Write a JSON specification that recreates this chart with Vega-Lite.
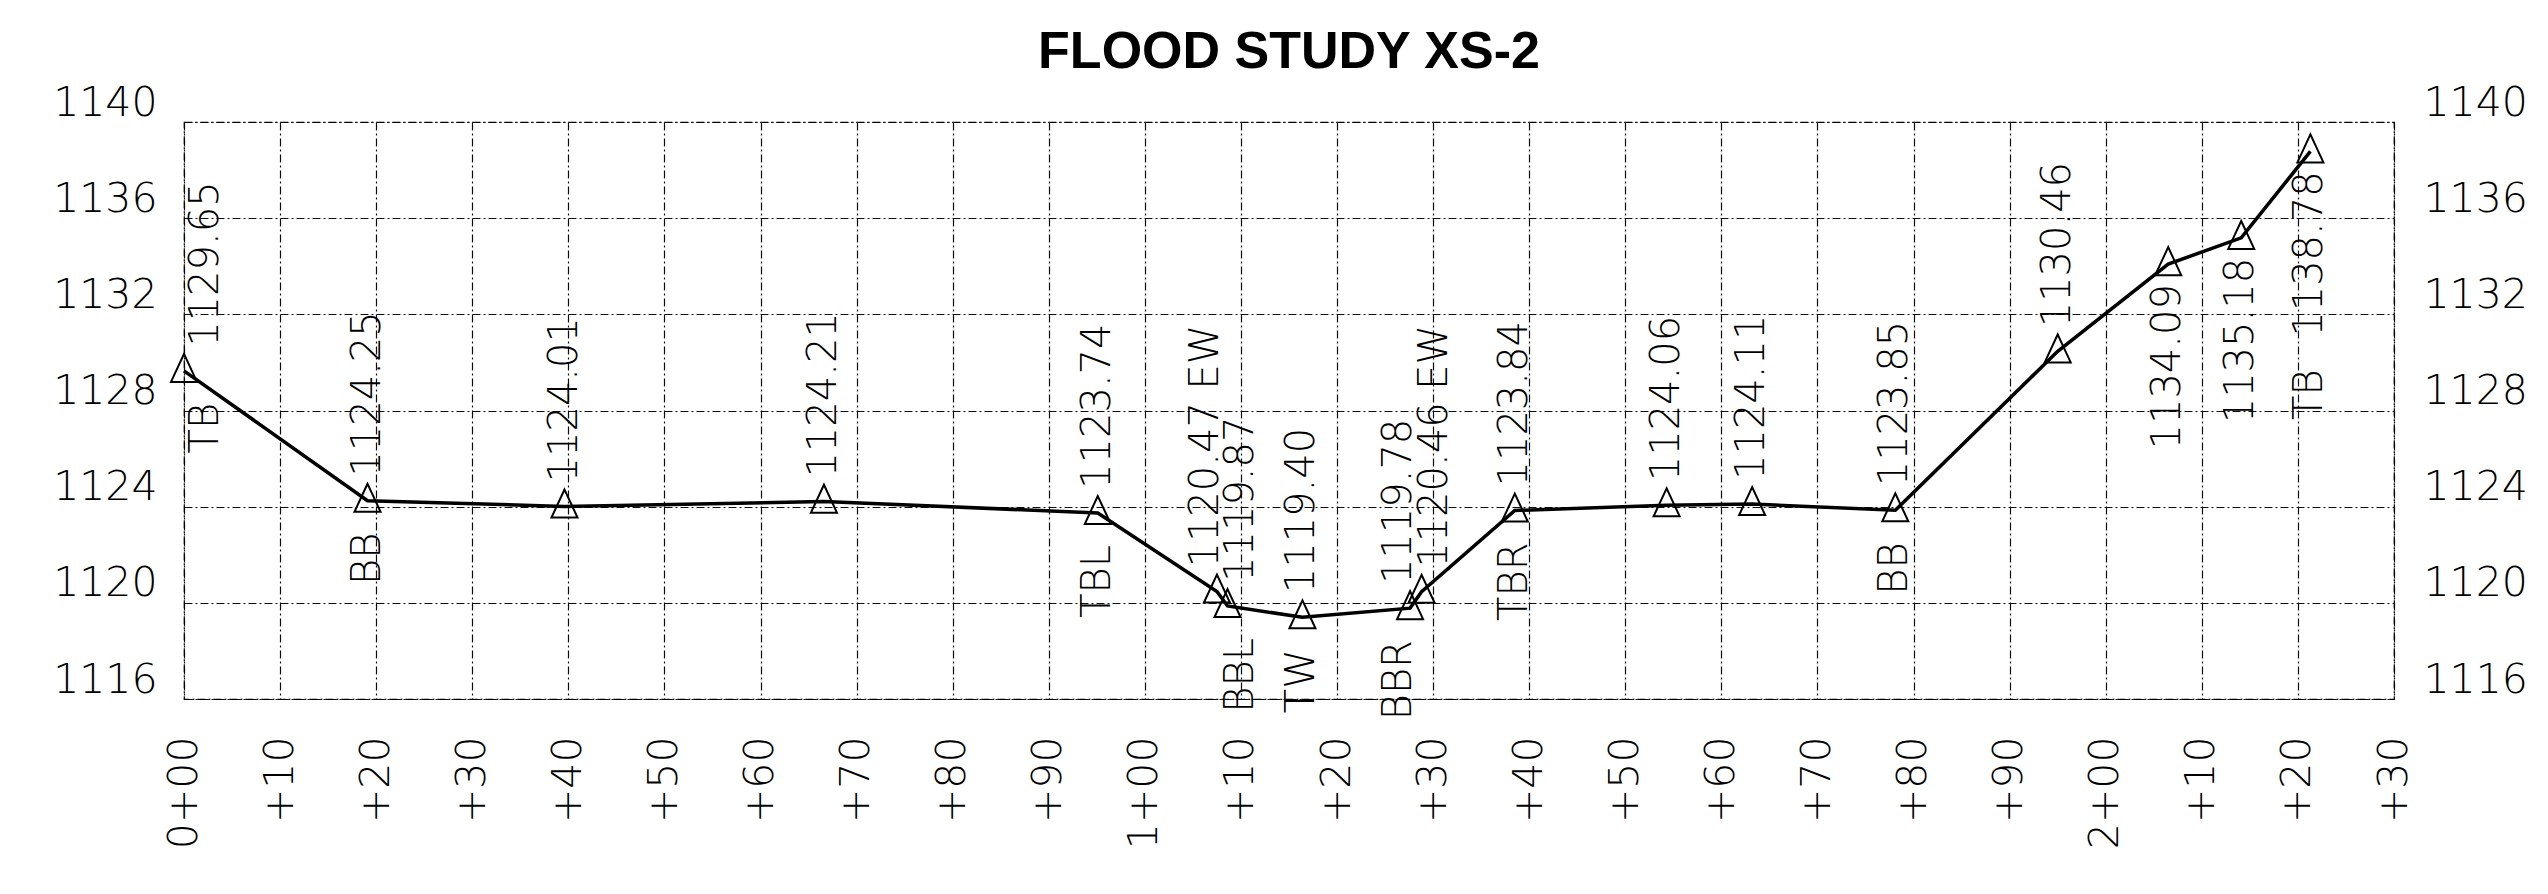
{
  "$schema": "https://vega.github.io/schema/vega-lite/v6.json",
  "width": 2210,
  "height": 577,
  "autosize": {"type": "none"},
  "padding": {"left": 184, "top": 122, "right": 154, "bottom": 195},
  "background": "white",
  "title": {
    "text": "FLOOD STUDY XS-2",
    "font": "Liberation Sans",
    "fontWeight": "bold",
    "fontSize": 52,
    "color": "black",
    "anchor": "middle",
    "frame": "group",
    "offset": 3
  },
  "config": {
    "view": {"stroke": "black", "strokeDash": [8, 3, 2, 3], "strokeWidth": 1.2},
    "axis": {
      "domain": false,
      "ticks": false,
      "title": null,
      "labelFont": "DejaVu Sans",
      "labelFontWeight": 200,
      "labelFontSize": 41,
      "labelColor": "black",
      "gridColor": "black",
      "gridDash": [8, 3, 2, 3],
      "gridWidth": 1.2,
      "gridOpacity": 0.95,
      "labelFlush": false,
      "labelOverlap": false
    }
  },
  "data": {
    "values": [
      {"sta": 0, "elev": 1129.65, "lab": "1129.65", "code": "TB"},
      {"sta": 19.1, "elev": 1124.25, "lab": "1124.25", "code": "BB"},
      {"sta": 39.6, "elev": 1124.01, "lab": "1124.01", "code": ""},
      {"sta": 66.6, "elev": 1124.21, "lab": "1124.21", "code": ""},
      {"sta": 95.1, "elev": 1123.74, "lab": "1123.74", "code": "TBL"},
      {"sta": 107.5, "elev": 1120.47, "lab": "1120.47 EW", "code": ""},
      {"sta": 108.6, "elev": 1119.87, "lab": "1119.87", "code": "BBL"},
      {"sta": 116.4, "elev": 1119.40, "lab": "1119.40", "code": "TW"},
      {"sta": 127.6, "elev": 1119.78, "lab": "1119.78", "code": "BBR"},
      {"sta": 128.8, "elev": 1120.46, "lab": "1120.46 EW", "code": ""},
      {"sta": 138.5, "elev": 1123.84, "lab": "1123.84", "code": "TBR"},
      {"sta": 154.3, "elev": 1124.06, "lab": "1124.06", "code": ""},
      {"sta": 163.2, "elev": 1124.11, "lab": "1124.11", "code": ""},
      {"sta": 178.1, "elev": 1123.85, "lab": "1123.85", "code": "BB"},
      {"sta": 195.0, "elev": 1130.46, "lab": "1130.46", "code": ""},
      {"sta": 206.5, "elev": 1134.09, "lab": "1134.09", "code": ""},
      {"sta": 214.1, "elev": 1135.18, "lab": "1135.18", "code": ""},
      {"sta": 221.3, "elev": 1138.78, "lab": "1138.78", "code": "TB"}
    ]
  },
  "encoding": {
    "x": {
      "field": "sta",
      "type": "quantitative",
      "scale": {"domain": [0, 230], "nice": false, "zero": false},
      "axis": {
        "orient": "bottom",
        "values": [0, 10, 20, 30, 40, 50, 60, 70, 80, 90, 100, 110, 120, 130, 140, 150, 160, 170, 180, 190, 200, 210, 220, 230],
        "labelExpr": "datum.value % 100 == 0 ? floor(datum.value / 100) + '+00' : '+' + (datum.value % 100)",
        "labelAngle": 270,
        "labelAlign": "right",
        "labelBaseline": "middle",
        "labelPadding": 37,
        "grid": true
      }
    }
  },
  "layer": [
    {
      "mark": {"type": "line", "color": "black", "strokeWidth": 3.5},
      "encoding": {
        "y": {
          "field": "elev", "type": "quantitative",
          "scale": {"domain": [1116, 1140], "nice": false, "zero": false},
          "axis": {"orient": "left", "values": [1116, 1120, 1124, 1128, 1132, 1136, 1140], "format": "d", "grid": true, "labelPadding": 27, "labelBaseline": "alphabetic", "labelOffset": -7}
        }
      }
    },
    {
      "mark": {"type": "point", "shape": "M0,-1.3L-1,0.85L1,0.85Z", "filled": false, "stroke": "black", "strokeWidth": 2, "size": 676, "opacity": 1},
      "encoding": {
        "y": {
          "field": "elev", "type": "quantitative",
          "scale": {"domain": [1116, 1140], "nice": false, "zero": false},
          "axis": {"orient": "right", "values": [1116, 1120, 1124, 1128, 1132, 1136, 1140], "format": "d", "grid": false, "labelPadding": 29, "labelBaseline": "alphabetic", "labelOffset": -7}
        }
      }
    },
    {
      "transform": [{"filter": "datum.sta > 0 && datum.elev < 1133 && (datum.sta < 107 || datum.sta > 129 || (datum.sta > 109 && datum.sta < 127))"}],
      "mark": {"type": "text", "angle": 270, "align": "left", "baseline": "middle", "dx": 24, "font": "DejaVu Sans", "fontWeight": 200, "fontSize": 40, "color": "black"},
      "encoding": {"y": {"field": "elev", "type": "quantitative", "scale": {"domain": [1116, 1140], "nice": false, "zero": false}, "axis": null}, "text": {"field": "lab"}}
    },
    {
      "transform": [{"filter": "datum.sta > 0 && datum.elev < 1133 && (datum.sta < 107 || datum.sta > 129 || (datum.sta > 109 && datum.sta < 127))"}],
      "mark": {"type": "text", "angle": 270, "align": "right", "baseline": "middle", "dx": -32, "font": "DejaVu Sans", "fontWeight": 200, "fontSize": 40, "color": "black"},
      "encoding": {"y": {"field": "elev", "type": "quantitative", "scale": {"domain": [1116, 1140], "nice": false, "zero": false}, "axis": null}, "text": {"field": "code"}}
    },
    {
      "transform": [{"filter": "datum.sta == 0"}],
      "mark": {"type": "text", "angle": 270, "align": "left", "baseline": "middle", "dx": 24, "dy": 22, "font": "DejaVu Sans", "fontWeight": 200, "fontSize": 40, "color": "black"},
      "encoding": {"y": {"field": "elev", "type": "quantitative", "scale": {"domain": [1116, 1140], "nice": false, "zero": false}, "axis": null}, "text": {"field": "lab"}}
    },
    {
      "transform": [{"filter": "datum.sta == 0"}],
      "mark": {"type": "text", "angle": 270, "align": "right", "baseline": "middle", "dx": -32, "dy": 22, "font": "DejaVu Sans", "fontWeight": 200, "fontSize": 40, "color": "black"},
      "encoding": {"y": {"field": "elev", "type": "quantitative", "scale": {"domain": [1116, 1140], "nice": false, "zero": false}, "axis": null}, "text": {"field": "code"}}
    },
    {
      "transform": [{"filter": "datum.sta == 107.5 || datum.sta == 127.6"}],
      "mark": {"type": "text", "angle": 270, "align": "left", "baseline": "middle", "dx": 24, "dy": -11, "font": "DejaVu Sans", "fontWeight": 200, "fontSize": 40, "color": "black"},
      "encoding": {"y": {"field": "elev", "type": "quantitative", "scale": {"domain": [1116, 1140], "nice": false, "zero": false}, "axis": null}, "text": {"field": "lab"}}
    },
    {
      "transform": [{"filter": "datum.sta == 107.5 || datum.sta == 127.6"}],
      "mark": {"type": "text", "angle": 270, "align": "right", "baseline": "middle", "dx": -32, "dy": -11, "font": "DejaVu Sans", "fontWeight": 200, "fontSize": 40, "color": "black"},
      "encoding": {"y": {"field": "elev", "type": "quantitative", "scale": {"domain": [1116, 1140], "nice": false, "zero": false}, "axis": null}, "text": {"field": "code"}}
    },
    {
      "transform": [{"filter": "datum.sta == 108.6 || datum.sta == 128.8"}],
      "mark": {"type": "text", "angle": 270, "align": "left", "baseline": "middle", "dx": 24, "dy": 13, "font": "DejaVu Sans", "fontWeight": 200, "fontSize": 40, "color": "black"},
      "encoding": {"y": {"field": "elev", "type": "quantitative", "scale": {"domain": [1116, 1140], "nice": false, "zero": false}, "axis": null}, "text": {"field": "lab"}}
    },
    {
      "transform": [{"filter": "datum.sta == 108.6 || datum.sta == 128.8"}],
      "mark": {"type": "text", "angle": 270, "align": "right", "baseline": "middle", "dx": -32, "dy": 13, "font": "DejaVu Sans", "fontWeight": 200, "fontSize": 40, "color": "black"},
      "encoding": {"y": {"field": "elev", "type": "quantitative", "scale": {"domain": [1116, 1140], "nice": false, "zero": false}, "axis": null}, "text": {"field": "code"}}
    },
    {
      "transform": [{"filter": "datum.elev >= 1133"}],
      "mark": {"type": "text", "angle": 270, "align": "right", "baseline": "middle", "dx": -20, "font": "DejaVu Sans", "fontWeight": 200, "fontSize": 40, "color": "black"},
      "encoding": {"y": {"field": "elev", "type": "quantitative", "scale": {"domain": [1116, 1140], "nice": false, "zero": false}, "axis": null}, "text": {"field": "lab"}}
    },
    {
      "transform": [{"filter": "datum.elev >= 1133"}],
      "mark": {"type": "text", "angle": 270, "align": "right", "baseline": "middle", "dx": -218, "font": "DejaVu Sans", "fontWeight": 200, "fontSize": 40, "color": "black"},
      "encoding": {"y": {"field": "elev", "type": "quantitative", "scale": {"domain": [1116, 1140], "nice": false, "zero": false}, "axis": null}, "text": {"field": "code"}}
    }
  ],
  "resolve": {"axis": {"y": "independent"}}
}
